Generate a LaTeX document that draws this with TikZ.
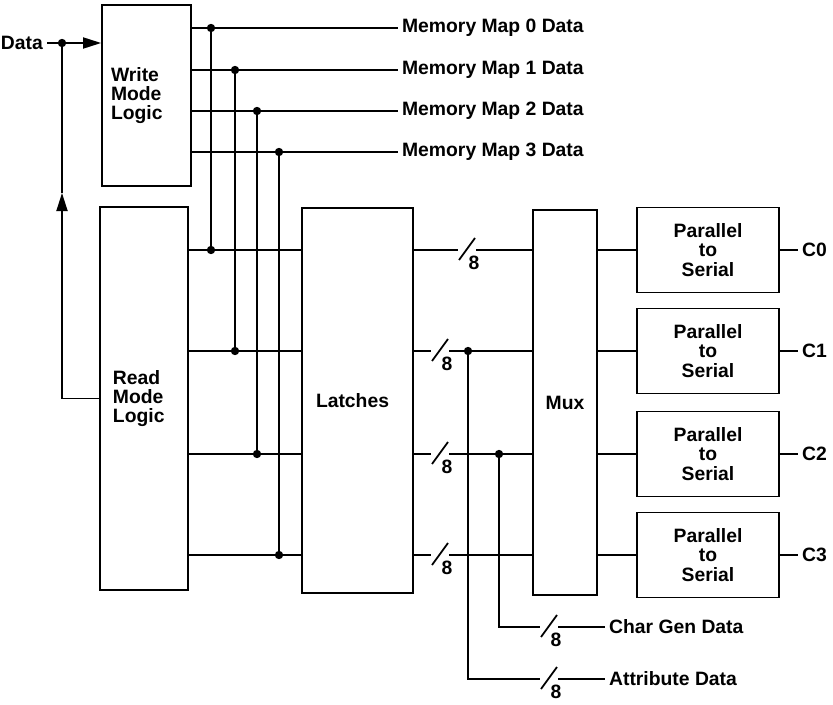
\documentclass[tikz,border=0pt]{standalone}
\usepackage{fontspec}
\setmainfont{Liberation Sans}
\usetikzlibrary{arrows.meta}

\begin{document}
\begin{tikzpicture}[x=0.03cm,y=-0.03cm,
    blk/.style={draw,line width=1.5pt,inner sep=0pt,align=center,font=\fontsize{16.5}{16.3}\selectfont\bfseries},
    wire/.style={line width=1.5pt},
    jn/.style={circle,fill,inner sep=0pt,minimum size=0.25cm},
    lbl/.style={anchor=west,font=\fontsize{16.5}{16.3}\selectfont\bfseries},
    num/.style={font=\fontsize{16.5}{16.3}\selectfont\bfseries,inner sep=1pt},
    tip/.style={-{Triangle[length=0.54cm,width=0.33cm]}},
    busmark/.pic={
      \fill[white] (-9,-2) rectangle (9,2);
      \draw[wire] (-8,10) -- (8,-12);
      \node[num] (-n) at (7,13) {8};
    }
  ]
  \useasboundingbox (0,0) rectangle (833,705);

  % blocks
  \node[blk,minimum width=2.67cm,minimum height=5.43cm,text width=2.13cm,align=left] (write) at (146.5,95.5) {Write\\Mode\\Logic};
  \node[blk,minimum width=2.64cm,minimum height=11.49cm,text width=1.86cm,align=left] (read) at (144,398.5) {Read\\Mode\\Logic};
  \node[blk,minimum width=3.33cm,minimum height=11.55cm,text width=2.49cm,align=left] (latch) at (357.5,400.5) {Latches};
  \node[blk,minimum width=1.92cm,minimum height=11.55cm] (mux) at (565,402.5) {Mux};
  \foreach \i/\y in {0/250,1/351,2/454,3/555}
    \node[blk,minimum width=4.26cm,minimum height=2.55cm] (ps\i) at (708,\y) {Parallel\\to\\Serial};

  % data in and read feedback
  \node[lbl,anchor=east] (data) at (47,43) {Data};
  \node[jn] (split) at (62,43) {};
  \coordinate (fbtip) at (62,193);
  \draw[wire,tip] (data.east) -- (write.west |- data.east);
  \draw[wire,tip] (read.west) -| (fbtip);
  \draw[wire] (fbtip) -- (split);

  % memory maps
  \foreach \i/\y/\x/\r in {0/28/211/250, 1/70/235/351, 2/111/257/454, 3/152/279/555} {
    \node[lbl] (mm\i) at (398,\y) {Memory Map \i\ Data};
    \node[jn] (wj\i) at (\x,\y) {};
    \node[jn] (rj\i) at (\x,\r) {};
    \draw[wire] (write.east |- wj\i) -- (mm\i.west);
    \draw[wire] (wj\i) -- (rj\i);
    \draw[wire] (read.east |- rj\i) -- (latch.west |- rj\i);
  }

  % 8 bit buses to mux and outputs
  \foreach \i/\xs in {0/467, 1/440, 2/440, 3/440} {
    \draw[wire] (latch.east |- rj\i) -- (mux.west |- rj\i);
    \pic (bm\i) at (\xs,0 |- rj\i) {busmark};
    \draw[wire] (mux.east |- ps\i) -- (ps\i.west);
    \node[lbl] (c\i) at (798,0 |- ps\i) {C\i};
    \draw[wire] (ps\i.east) -- (c\i.west);
  }

  % char gen and attribute taps
  \node[jn] (attrj) at (468,351) {};
  \node[jn] (chgenj) at (499,454) {};
  \node[lbl] (chgen) at (605,627) {Char Gen Data};
  \node[lbl] (attr) at (605,679) {Attribute Data};
  \draw[wire] (chgenj) |- (chgen.west);
  \draw[wire] (attrj) |- (attr.west);
  \pic (bmc) at (549,627) {busmark};
  \pic (bma) at (549,679) {busmark};
\end{tikzpicture}
\end{document}
